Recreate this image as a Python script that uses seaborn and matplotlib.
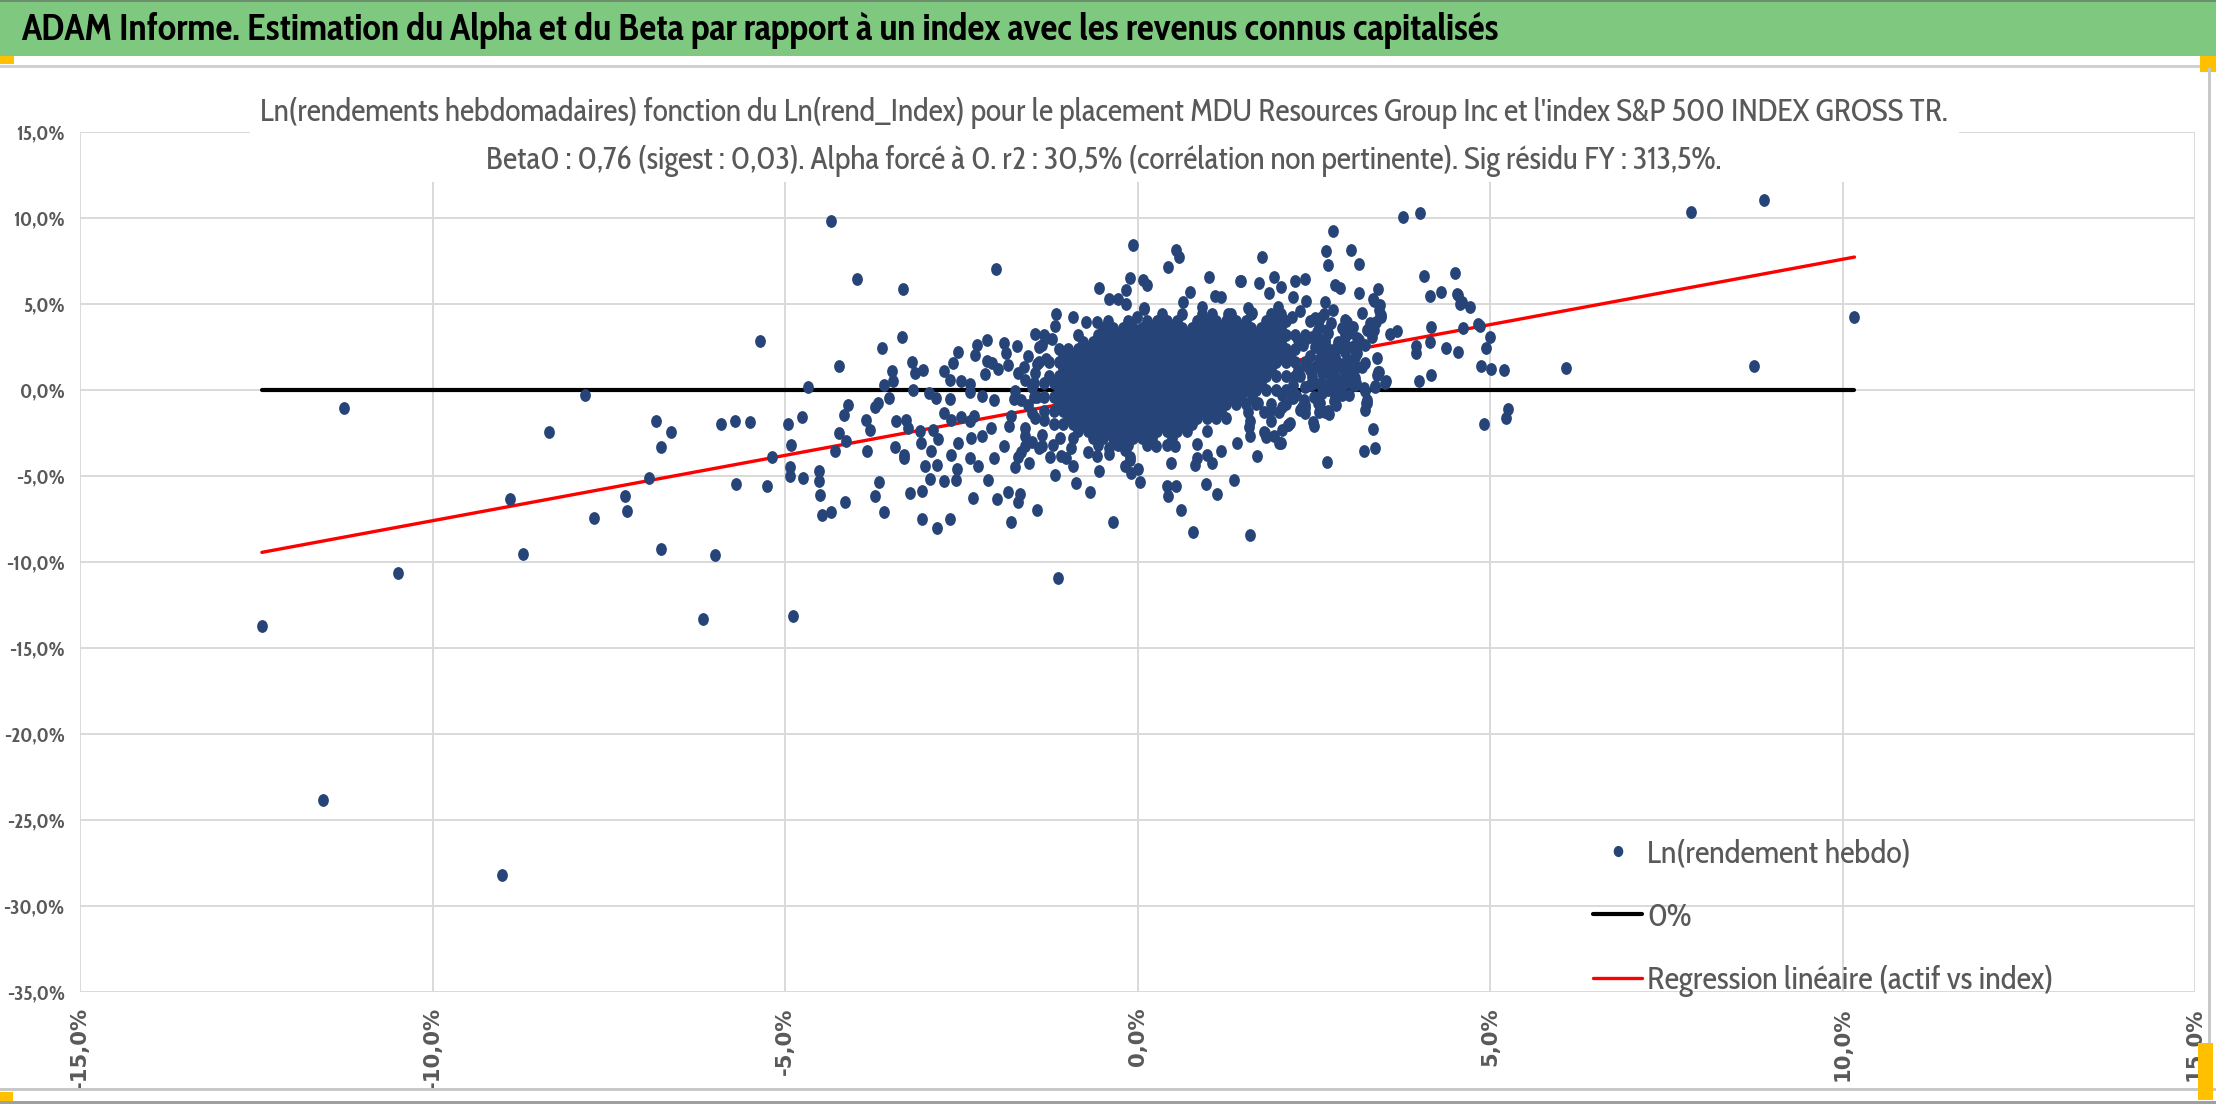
import matplotlib
matplotlib.use("Agg")
import matplotlib.pyplot as plt
import seaborn as sns
import pandas as pd
from matplotlib import font_manager as fm
from matplotlib.patches import Rectangle
from matplotlib.lines import Line2D
from matplotlib.path import Path
from matplotlib.transforms import Affine2D

# ---- values (x = Ln(rend index) %, y = Ln(rend actif) %) ----
left_tail = [
    (-12.42, -13.73), (-11.26, -1.02), (-11.56, -23.86), (-10.49, -10.66), (-9.02, -28.2),
    (-7.84, -0.29), (-8.35, -2.47), (-8.90, -6.33), (-8.71, -9.54), (-7.71, -7.47),
    (-7.27, -6.14), (-7.24, -7.01), (-6.83, -1.80), (-6.62, -2.47), (-6.76, -3.32),
    (-6.93, -5.12), (-6.76, -9.27), (-6.16, -13.32), (-5.99, -9.61), (-5.91, -1.99),
    (-5.71, -1.80), (-5.49, -1.87), (-5.69, -5.48), (-5.25, -5.60), (-5.35, 2.84),
    (-5.18, -3.92), (-4.96, -1.95), (-4.92, -3.22), (-4.93, -4.50), (-4.93, -5.0),
    (-4.89, -13.13),
]

upper_shell = [
    (-4.35, 9.81), (-3.98, 6.45), (-3.32, 5.85), (-2.01, 7.05), (-0.06, 8.41), (0.54, 8.16),
    (0.59, 7.73), (0.43, 7.13), (1.76, 7.73), (1.01, 6.59), (1.45, 6.34), (1.72, 6.20),
    (1.93, 6.59), (-0.55, 5.93), (-0.11, 6.53), (0.08, 6.41), (0.14, 6.12), (-0.17, 5.81),
    (-0.17, 5.0), (-0.40, 5.29), (-0.28, 5.29), (0.75, 5.72), (0.65, 5.14), (1.10, 5.45),
    (1.18, 5.41), (0.09, 4.71), (-0.01, 4.22), (0.10, 3.68), (-1.15, 4.40), (-0.91, 4.26),
    (-1.17, 3.70), (-0.73, 3.93), (-0.57, 3.93), (-1.46, 3.28), (-1.32, 3.18), (-1.40, 2.50),
    (-1.21, 2.98), (0.09, 4.75), (0.39, 3.88), (0.91, 4.84), (1.28, 4.42), (1.57, 4.75),
    (1.62, 4.46), (1.87, 5.62), (1.99, 4.84), (2.21, 5.43), (2.39, 5.17), (2.19, 4.26),
    (2.52, 4.17), (2.66, 5.14), (2.78, 4.65), (2.97, 3.97), (3.18, 4.46), (3.35, 3.49),
    (3.45, 4.36), (2.03, 6.01), (1.47, 6.35),
]

left_shell = [
    (-3.34, 3.08), (-3.62, 2.44), (-4.23, 1.41), (-4.68, 0.16), (-2.13, 2.89), (-2.28, 2.60),
    (-2.31, 2.03), (-2.54, 2.19), (-1.89, 2.75), (-1.71, 2.54), (-1.86, 2.15), (-2.13, 1.67),
    (-2.06, 1.57), (-2.62, 1.57), (-2.74, 1.12), (-3.20, 1.61), (-3.04, 1.18), (-3.15, 0.99),
    (-3.48, 1.09), (-3.47, 0.50), (-3.60, 0.27), (-2.66, 0.56), (-2.50, 0.52), (-2.38, 0.37),
    (-2.16, 0.93), (-1.98, 1.22), (-1.84, 1.47), (-1.61, 1.34), (-1.43, 1.53), (-3.18, 0.0),
    (-2.96, -0.17), (-2.86, -0.47), (-2.66, -0.52), (-2.37, -0.12), (-2.20, -0.37),
    (-2.03, -0.56), (-1.74, -0.08), (-1.65, -0.56), (-3.53, -0.47), (-3.68, -0.76),
    (-3.73, -0.99), (-4.11, -0.89), (-4.17, -1.45), (-4.76, -1.59), (-3.85, -1.72),
    (-3.79, -2.34), (-4.24, -2.50), (-4.14, -2.98), (-4.29, -3.57), (-4.74, -5.14),
    (-4.52, -4.73), (-4.52, -5.27), (-4.50, -6.10), (-4.47, -7.27), (-4.35, -7.07),
    (-4.15, -6.49), (-3.84, -3.53), (-3.73, -6.18), (-3.67, -5.35), (-3.59, -7.07),
    (-3.44, -3.31), (-3.31, -3.80), (-3.31, -3.95), (-3.43, -1.82), (-3.28, -1.72),
    (-3.25, -2.21), (-3.23, -5.99), (-3.05, -5.89), (-3.05, -7.50), (-2.85, -8.02),
    (-2.66, -7.50), (-3.02, -4.40), (-2.95, -5.16), (-2.84, -4.34), (-3.07, -3.08),
    (-2.93, -3.57), (-2.83, -2.85), (-3.08, -2.40), (-2.90, -2.31), (-2.74, -5.31),
    (-2.58, -5.21), (-2.56, -4.59), (-2.64, -3.76), (-2.54, -3.08), (-2.50, -1.57),
    (-2.64, -1.72), (-2.74, -1.34), (-2.38, -1.82), (-2.32, -1.53), (-2.36, -2.79),
    (-2.38, -3.95), (-2.26, -4.44), (-2.12, -5.21), (-2.33, -6.28), (-2.00, -6.34),
    (-1.83, -5.95), (-1.70, -6.53), (-1.66, -6.03), (-1.80, -7.67), (-1.42, -6.96),
    (-2.21, -2.69), (-2.08, -2.21), (-2.03, -3.95), (-1.90, -3.28), (-1.74, -4.50),
    (-1.70, -3.91), (-1.54, -4.24), (-1.60, -3.28), (-1.82, -2.11), (-1.60, -2.69),
    (-1.50, -1.34), (-1.32, -1.72), (-1.36, -3.28), (-1.55, 2.0), (-1.45, 1.0), (-1.6, 0.6),
    (-1.5, 0.2), (-1.42, -0.4), (-1.55, -0.9), (-1.45, -1.6), (-1.6, -2.2), (-1.35, -2.6),
    (-1.5, -3.0), (-1.3, 1.8), (-1.35, 2.6), (-1.7, 1.0), (-1.75, -0.5), (-1.8, -1.5),
    (-1.65, -3.6), (-1.4, -3.4), (-1.3, 3.0),
]

lower_shell = [
    (-1.17, -4.92), (-1.24, -3.90), (-1.08, -3.86), (-1.02, -3.95), (-0.92, -4.40),
    (-0.87, -5.41), (-0.68, -5.95), (-0.58, -3.86), (-0.55, -4.73), (-0.41, -3.37),
    (-0.35, -7.67), (-1.13, -10.93), (-0.18, -4.44), (-0.09, -4.83), (0.03, -5.35),
    (-0.11, -3.91), (0.42, -5.60), (0.55, -5.60), (0.43, -6.18), (0.62, -7.0), (0.79, -8.26),
    (0.97, -5.47), (1.13, -6.05), (1.37, -5.21), (1.60, -8.41), (1.70, -3.86), (0.48, -4.24),
    (0.81, -4.34), (1.05, -4.24), (0.99, -3.76), (0.85, -3.14), (0.53, -3.28), (0.26, -3.28),
    (1.19, -3.57), (1.41, -3.08), (1.59, -2.69), (1.82, -2.73), (1.93, -2.69), (2.00, -3.10),
    (2.50, -2.07), (1.81, -2.52), (1.58, -2.13), (0.84, -3.97), (0.01, -4.61), (-0.18, -3.49),
    (-0.11, -4.07), (-1.1, -2.8), (-1.2, -3.2), (-0.95, -3.4), (-0.7, -3.6), (-0.4, -3.7),
    (-0.2, -3.2), (2.16, -1.94), (2.05, -2.33), (1.79, -2.42),
]

right_shell = [
    (2.28, 2.91), (2.47, 3.10), (2.66, 2.91), (2.62, 2.33), (2.81, 2.42), (2.95, 3.10),
    (3.04, 2.52), (3.14, 2.91), (3.25, 3.49), (3.09, 1.94), (2.95, 1.55), (3.04, 1.16),
    (3.18, 1.36), (2.95, 0.78), (2.81, 0.68), (3.04, 0.39), (2.66, 1.74), (2.52, 1.36),
    (2.47, 0.78), (2.62, 0.19), (2.62, -0.19), (2.38, 0.19), (2.28, 1.16), (2.19, -0.39),
    (2.36, -0.58), (2.38, -1.07), (2.57, -0.78), (2.66, -1.26), (2.71, -1.40), (2.90, -0.29),
    (3.40, 0.87), (3.40, 1.84), (3.43, 1.07), (3.51, 0.43), (3.37, 0.19), (3.21, 0.10),
    (3.25, -0.78), (3.22, -1.16), (2.81, -0.87), (2.33, -0.97), (2.14, -2.03),
    (2.30, 4.6), (2.45, 4.0), (2.55, 3.4), (2.4, 3.0), (2.35, 2.6), (2.45, 2.0), (2.4, 1.4),
    (2.6, 1.4), (2.3, 0.8), (2.2, 0.3), (2.45, 0.3), (2.05, -0.3), (2.25, -0.3), (1.9, -0.8),
    (2.1, -0.8), (1.8, -1.3), (2.0, -1.3), (1.6, -1.8), (1.9, -1.8), (2.65, 4.4), (2.75, 3.9),
    (2.9, 3.6), (2.7, 3.3), (3.0, 3.3), (2.6, 2.9), (2.85, 2.8), (3.1, 2.6), (2.7, 2.4),
    (2.95, 2.2), (2.6, 2.0), (2.8, 1.9), (3.05, 1.7), (2.65, 1.5), (2.9, 1.3), (2.7, 1.0),
    (3.0, 0.9), (2.75, 0.6), (2.6, 0.4), (2.9, 0.3), (3.1, 0.4), (2.7, 0.0), (3.0, -0.3),
    (2.5, -0.4), (2.8, -0.4), (2.95, 4.07), (3.06, 3.68), (3.36, 5.19), (3.42, 4.65),
    (3.46, 4.22), (3.30, 3.87), (3.11, 3.0), (2.95, 3.29), (2.69, 3.49), (2.59, 4.17),
    (2.57, 3.68), (2.52, 2.52), (2.66, 2.71), (2.80, 2.33), (2.95, 2.62), (3.23, 2.62),
    (3.33, 3.1), (3.11, 2.13), (2.99, 1.74), (2.85, 1.55), (2.71, 1.74), (2.57, 1.65),
    (2.45, 1.16), (2.61, 0.97), (2.78, 1.16), (3.11, 1.36), (3.23, 1.55), (3.09, 0.68),
    (2.95, 0.39), (2.80, 0.48), (2.64, 0.29), (2.50, 0.39), (3.09, 0.29), (2.80, 0.0),
    (2.59, -0.78), (2.57, -1.26), (2.38, -0.87), (2.21, -0.48), (2.30, -1.16), (2.38, -1.36),
    (2.05, -0.97), (1.90, -1.16), (1.71, -0.78), (1.57, -1.26), (1.62, -0.39),
]

right_tail = [
    (3.76, 10.06), (4.01, 10.27), (7.85, 10.33), (8.88, 11.07), (2.78, 9.26), (2.68, 8.06),
    (2.70, 7.25), (3.03, 8.12), (3.14, 7.33), (2.24, 6.36), (2.37, 6.45), (2.80, 6.12),
    (2.87, 5.91), (3.14, 5.64), (3.41, 5.87), (3.34, 5.31), (3.44, 4.94), (3.44, 4.28),
    (3.39, 3.93), (4.07, 6.65), (4.51, 6.80), (4.31, 5.72), (4.15, 5.45), (4.54, 5.50),
    (4.58, 5.02), (4.72, 4.81), (4.16, 3.66), (4.62, 3.60), (4.83, 3.86), (4.86, 3.70),
    (5.00, 3.08), (4.95, 2.44), (4.15, 2.77), (3.95, 2.54), (3.95, 2.15), (4.37, 2.44),
    (4.55, 2.19), (4.87, 1.38), (5.02, 1.22), (5.20, 1.18), (6.08, 1.26), (8.74, 1.41),
    (3.99, 0.52), (4.17, 0.89), (3.53, 0.52), (3.41, 1.05), (3.68, 3.41), (3.58, 3.28),
    (5.25, -1.08), (5.22, -1.63), (4.92, -1.96), (3.34, -2.27), (3.21, -3.55), (3.37, -3.39),
    (2.69, -4.21), (3.24, -0.76), (3.25, -0.56), (3.22, -0.04), (3.37, 0.21), (2.49, -1.84),
    (2.70, -1.22), (2.56, -0.76), (2.79, -0.66), (2.87, -0.08), (2.04, -3.08), (2.14, -2.02),
    (2.35, -1.05), (10.17, 4.25), (4.53, 5.56), (4.60, 5.13),
]

# dense core: (y, [x values]) rows estimated from the solid blob, ragged at the ends
core_rows = [
    (4.4, [0.35, 0.63, 0.91, 1.05, 1.33, 1.61, 1.89, 2.03]),
    (4.0, [-0.42, -0.14, 0.14, 0.28, 0.42, 0.56, 0.84, 0.98, 1.12, 1.26, 1.40, 1.54, 1.82,
           1.96, 2.10]),
    (3.6, [-0.49, -0.35, -0.21, -0.07, 0.07, 0.21, 0.35, 0.49, 0.63, 0.77, 0.91, 1.05, 1.19,
           1.33, 1.47, 1.61, 1.75, 1.89, 2.03]),
    (3.2, [-0.84, -0.56, -0.42, -0.28, -0.14, 0.00, 0.14, 0.28, 0.42, 0.56, 0.70, 0.84, 0.98,
           1.12, 1.26, 1.40, 1.54, 1.68, 1.82, 1.96, 2.10, 2.24, 2.38]),
    (2.8, [-0.77, -0.63, -0.49, -0.35, -0.21, -0.07, 0.07, 0.21, 0.35, 0.49, 0.63, 0.77,
           0.91, 1.05, 1.19, 1.33, 1.47, 1.61, 1.75, 1.89, 2.03]),
    (2.4, [-1.12, -0.98, -0.84, -0.70, -0.56, -0.42, -0.28, -0.14, 0.00, 0.14, 0.28, 0.42, 0.56,
           0.70, 0.84, 0.98, 1.12, 1.26, 1.40, 1.54, 1.68, 1.82, 1.96, 2.10, 2.24]),
    (2.0, [-1.05, -0.91, -0.77, -0.63, -0.49, -0.35, -0.21, -0.07, 0.07, 0.21, 0.35,
           0.49, 0.63, 0.77, 0.91, 1.05, 1.19, 1.33, 1.47, 1.61, 1.75, 1.89, 2.03, 2.17]),
    (1.6, [-1.40, -1.26, -1.12, -0.98, -0.84, -0.70, -0.56, -0.42, -0.28, -0.14, 0.00, 0.14,
           0.28, 0.42, 0.56, 0.70, 0.84, 0.98, 1.12, 1.26, 1.40, 1.54, 1.68, 1.82, 1.96, 2.10,
           2.24, 2.38]),
    (1.2, [-1.05, -0.91, -0.77, -0.63, -0.49, -0.35, -0.21, -0.07, 0.07, 0.21, 0.35,
           0.49, 0.63, 0.77, 0.91, 1.05, 1.19, 1.33, 1.47, 1.61, 1.75, 1.89]),
    (0.8, [-1.26, -1.12, -0.98, -0.84, -0.70, -0.56, -0.42, -0.28, -0.14, 0.00, 0.14, 0.28,
           0.42, 0.56, 0.70, 0.84, 0.98, 1.12, 1.26, 1.40, 1.54, 1.68, 1.82, 1.96, 2.10, 2.24]),
    (0.4, [-1.47, -1.33, -1.19, -1.05, -0.91, -0.77, -0.63, -0.49, -0.35, -0.21, -0.07, 0.07,
           0.21, 0.35, 0.49, 0.63, 0.77, 0.91, 1.05, 1.19, 1.33, 1.47, 1.61, 1.75]),
    (0.0, [-1.12, -0.98, -0.84, -0.70, -0.56, -0.42, -0.28, -0.14, 0.00, 0.14, 0.28,
           0.42, 0.56, 0.70, 0.84, 0.98, 1.12, 1.26, 1.40, 1.54, 1.68, 1.82, 1.96, 2.10]),
    (-0.4, [-1.47, -1.33, -1.19, -1.05, -0.91, -0.77, -0.63, -0.49, -0.35, -0.21, -0.07, 0.07,
            0.21, 0.35, 0.49, 0.63, 0.77, 0.91, 1.05, 1.19, 1.33, 1.47]),
    (-0.8, [-1.12, -0.98, -0.84, -0.70, -0.56, -0.42, -0.28, -0.14, 0.00, 0.14, 0.28,
            0.42, 0.56, 0.70, 0.84, 0.98, 1.12, 1.26, 1.40, 1.54, 1.68]),
    (-1.2, [-1.33, -1.19, -1.05, -0.91, -0.77, -0.63, -0.49, -0.35, -0.21, -0.07, 0.07, 0.21,
            0.35, 0.49, 0.63, 0.77, 0.91, 1.05, 1.19]),
    (-1.6, [-0.98, -0.84, -0.70, -0.56, -0.42, -0.28, -0.14, 0.00, 0.14, 0.28, 0.42,
            0.56, 0.70, 0.84, 0.98, 1.12, 1.26]),
    (-2.0, [-1.19, -1.05, -0.91, -0.77, -0.63, -0.49, -0.35, -0.21, -0.07, 0.07, 0.21, 0.35,
            0.49, 0.63, 0.77]),
    (-2.4, [-0.84, -0.70, -0.56, -0.42, -0.28, -0.14, 0.00, 0.14, 0.28, 0.42, 0.56,
            0.70, 0.98]),
    (-2.8, [-0.91, -0.63, -0.49, -0.35, -0.21, -0.07, 0.07, 0.21, 0.49]),
    (-3.2, [-0.56, -0.28, -0.14, 0.14, 0.42]),
]

beta0 = 0.76
x_ticks = [-15, -10, -5, 0, 5, 10, 15]
x_tick_labels = ["-15,0%", "-10,0%", "-5,0%", "0,0%", "5,0%", "10,0%", "15,0%"]
y_ticks = [-35, -30, -25, -20, -15, -10, -5, 0, 5, 10, 15]
y_tick_labels = ["-35,0%", "-30,0%", "-25,0%", "-20,0%", "-15,0%", "-10,0%", "-5,0%",
                 "0,0%", "5,0%", "10,0%", "15,0%"]

bar_title = ("ADAM Informe. Estimation du Alpha et du Beta par rapport à un index "
             "avec les revenus connus capitalisés")
chart_title_1 = ("Ln(rendements hebdomadaires) fonction du Ln(rend_Index) pour le placement "
                 "MDU Resources Group Inc et l'index S&P 500 INDEX GROSS TR.")
chart_title_2 = ("Beta0 : 0,76 (sigest : 0,03). Alpha forcé à 0. r2 : 30,5% "
                 "(corrélation non pertinente). Sig résidu FY : 313,5%.")
legend_labels = ["Ln(rendement hebdo)", "0%", "Regression linéaire (actif vs index)"]

# ---- assemble ----
pts = left_tail + upper_shell + left_shell + lower_shell + right_shell + right_tail
for yv, row in core_rows:
    pts += [(xv, yv) for xv in row]
df = pd.DataFrame(pts, columns=["index", "actif"])

x_line = [df["index"].min(), df["index"].max()]
line_df = pd.DataFrame({"x": x_line, "zero": [0, 0], "reg": [beta0 * v for v in x_line]})

sns.set_theme(style="whitegrid")

# Calibri is not installed: use a narrow humanist sans when present
names = {f.name for f in fm.fontManager.ttflist}
narrow = "DejaVu Sans"
for n in ["Cabin Condensed", "Encode Sans Semi Condensed", "Asap Condensed",
          "Barlow Semi Condensed"]:
    if n in names:
        narrow = n
        break
plt.rcParams["font.family"] = [narrow, "DejaVu Sans"]

W, H = 2216, 1104
fig = plt.figure(figsize=(W / 100, H / 100), dpi=100)
fig.patch.set_facecolor("white")
rend = fig.canvas.get_renderer()


def fit_size(text, target_px, base=20, **kw):
    t = fig.text(0, 0, text, fontsize=base, **kw)
    w = t.get_window_extent(rend).width
    t.remove()
    return base * target_px / w


ax = fig.add_axes([80 / W, 112 / H, 2115 / W, 860 / H])
ax.set_facecolor("white")

blue = "#264478"
ell = Path.unit_circle().transformed(Affine2D().scale(0.84, 1.0))

sns.lineplot(data=line_df, x="x", y="zero", color="black", linewidth=3, ax=ax, zorder=2)
sns.lineplot(data=line_df, x="x", y="reg", color="#FF0000", linewidth=2.4, ax=ax, zorder=2)
sns.scatterplot(data=df, x="index", y="actif", marker=ell, s=85, color=blue,
                linewidth=0, ax=ax, zorder=3)

x_fs = fit_size("-15,0%", 82, fontfamily="DejaVu Sans", fontweight="bold")
y_fs = fit_size("-30,0%", 61, fontweight="bold")

ax.set_xlim(-15, 15)
ax.set_ylim(-35, 15)
ax.set_xticks(x_ticks, labels=x_tick_labels, rotation=90, fontfamily="DejaVu Sans",
              fontweight="bold", fontsize=x_fs, color="#595959")
ax.set_yticks(y_ticks, labels=y_tick_labels, fontweight="bold", fontsize=y_fs, color="#595959")
ax.tick_params(axis="both", length=0)
ax.tick_params(axis="x", pad=11)
ax.tick_params(axis="y", pad=11)
ax.set_xlabel("")
ax.set_ylabel("")
ax.grid(True, color="#D9D9D9", linewidth=1.4)
for sp in ax.spines.values():
    sp.set_visible(False)

# legend
leg_fs = fit_size(legend_labels[2], 406)
f_px = leg_fs * 100 / 72
handles = [
    Line2D([], [], marker=ell, ls="none", color=blue, markersize=7),
    Line2D([], [], color="black", lw=3),
    Line2D([], [], color="#FF0000", lw=2.4),
]
leg = ax.legend(handles, legend_labels, loc="upper left",
                bbox_to_anchor=(1593 / W, 1 - (853 - 0.46 * f_px) / H),
                bbox_transform=fig.transFigure, frameon=False, fontsize=leg_fs,
                labelspacing=61.5 / f_px - 0.92, handlelength=49 / f_px,
                handletextpad=5 / f_px, borderpad=0, borderaxespad=0)
for t in leg.get_texts():
    t.set_color("#595959")


# frame decorations of the report
def px_rect(x0, y0, x1, y1, color, z=1):
    fig.add_artist(Rectangle((x0 / W, 1 - y1 / H), (x1 - x0) / W, (y1 - y0) / H,
                             transform=fig.transFigure, facecolor=color, edgecolor="none",
                             zorder=z))


px_rect(0, 0, W, 56, "#7FC87F")
px_rect(0, 0, W, 2, "#6E8F6E")
px_rect(0, 65, W, 68, "#D0D0D0")
px_rect(0, 56, 14, 64, "#FFC000")
px_rect(2200, 56, W, 72, "#FFC000")
px_rect(2208, 68, 2211, 1090, "#C8C8C8")
px_rect(0, 1088, W, 1091, "#C8C8C8")
px_rect(0, 1092, 13, 1102, "#FFC000")
px_rect(2198, 1043, 2213, 1100, "#FFC000")
px_rect(0, 1101, W, 1104, "#A0A0A0")
# white box behind the chart title
px_rect(250, 68, 1959, 182, "white", z=2)

bar_fs = fit_size(bar_title, 1477, fontweight="bold")
t1_fs = fit_size(chart_title_1, 1688)
fig.text(21 / W, 1 - 30 / H, bar_title, fontsize=bar_fs, fontweight="bold", color="black",
         ha="left", va="center", zorder=4)
fig.text(1104 / W, 1 - 113 / H, chart_title_1, fontsize=t1_fs, color="#595959",
         ha="center", va="center", zorder=4)
fig.text(1104 / W, 1 - 161 / H, chart_title_2, fontsize=t1_fs, color="#595959",
         ha="center", va="center", zorder=4)

fig.savefig("out.png", dpi=100)
